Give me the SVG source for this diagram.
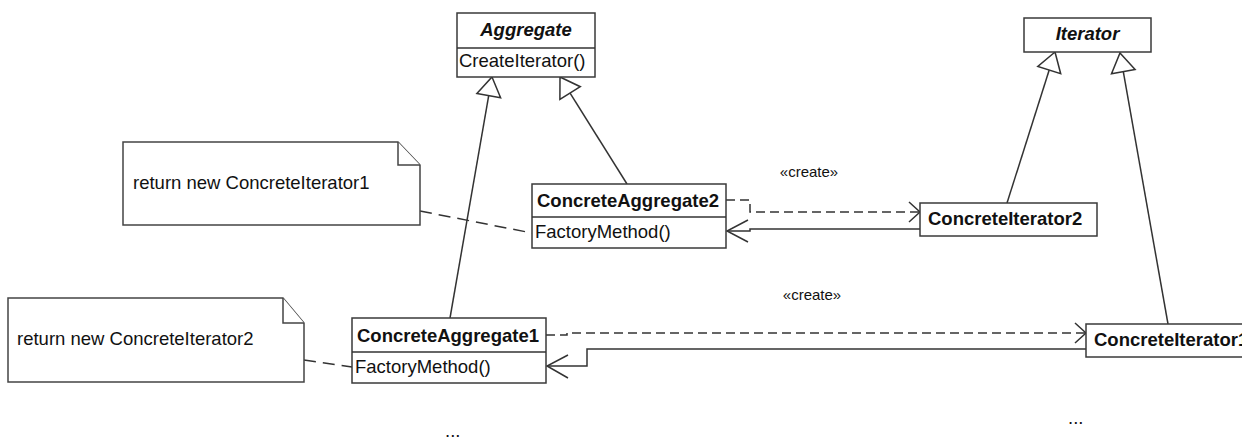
<svg xmlns="http://www.w3.org/2000/svg" width="1242" height="438" viewBox="0 0 1242 438">
<style>
  .box{fill:#fff;stroke:#3a3a3a;stroke-width:1.5}
  .note{fill:#fff;stroke:#444;stroke-width:1.5}
  .t{font-family:"Liberation Sans",Arial,sans-serif;font-size:18.5px;fill:#111}
  .b{font-weight:bold}
  .bi{font-weight:bold;font-style:italic}
  .lbl{font-family:"Liberation Sans",Arial,sans-serif;font-size:15px;fill:#111}
  .ln{fill:none;stroke:#333;stroke-width:1.5}
  .dash{fill:none;stroke:#333;stroke-width:1.5;stroke-dasharray:9 5}
  .ndash{fill:none;stroke:#333;stroke-width:1.5;stroke-dasharray:12 7}
  .tri{fill:#fff;stroke:#333;stroke-width:1.5;stroke-linejoin:miter}
</style>
<rect width="1242" height="438" fill="#fff"/>

<g id="connectors">
  <line class="ln" x1="450" y1="318" x2="488.7" y2="95.7"/>
  <polygon class="tri" points="492,77 500.6,97.8 476.9,93.6"/>
  <line class="ln" x1="627" y1="184" x2="570.1" y2="93.1"/>
  <polygon class="tri" points="560,77 580.3,86.7 559.9,99.5"/>
  <line class="ln" x1="1007" y1="203" x2="1049.2" y2="70.1"/>
  <polygon class="tri" points="1055,52 1060.7,73.7 1037.8,66.5"/>
  <line class="ln" x1="1168" y1="324" x2="1123.3" y2="71.7"/>
  <polygon class="tri" points="1120,53 1135.1,69.6 1111.5,73.8"/>

  <polyline class="dash" points="726,200 750,200 750,212 919,212"/>
  <polyline class="ln" points="909,202 920,212 909,222"/>
  <polyline class="dash" points="546,335 567,335 567,333 1085,333"/>
  <polyline class="ln" points="1075,323 1086,333 1075,343"/>

  <polyline class="ln" points="920,229 750,229 750,231 727,231"/>
  <polyline class="ln" points="748,220 727,231 748,242"/>
  <polyline class="ln" points="1086,349 587,349 587,366 547,366"/>
  <polyline class="ln" points="568,355 547,366 568,378"/>

  <line class="ndash" x1="420" y1="211" x2="532" y2="233"/>
  <line class="ndash" x1="304" y1="360" x2="352" y2="367"/>

  <text class="lbl" x="809" y="177" text-anchor="middle">«create»</text>
  <text class="lbl" x="812" y="300" text-anchor="middle">«create»</text>
</g>

<g id="Aggregate">
  <rect class="box" x="457" y="13" width="138" height="64"/>
  <line class="ln" x1="457" y1="48" x2="595" y2="48"/>
  <text class="t bi" x="526" y="36" text-anchor="middle">Aggregate</text>
  <text class="t" x="459" y="67">CreateIterator()</text>
</g>

<g id="Iterator">
  <rect class="box" x="1024" y="18" width="127" height="34"/>
  <text class="t bi" x="1087.5" y="40" text-anchor="middle">Iterator</text>
</g>

<g id="ConcreteAggregate2">
  <rect class="box" x="532" y="184" width="194" height="64"/>
  <line class="ln" x1="532" y1="217" x2="726" y2="217"/>
  <text class="t b" x="537" y="207">ConcreteAggregate2</text>
  <text class="t" x="535" y="238">FactoryMethod()</text>
</g>

<g id="ConcreteIterator2">
  <rect class="box" x="920" y="203" width="177" height="33"/>
  <text class="t b" x="928" y="225">ConcreteIterator2</text>
</g>

<g id="ConcreteAggregate1">
  <rect class="box" x="352" y="318" width="194" height="65"/>
  <line class="ln" x1="352" y1="352" x2="546" y2="352"/>
  <text class="t b" x="357" y="342">ConcreteAggregate1</text>
  <text class="t" x="355" y="373">FactoryMethod()</text>
</g>

<g id="ConcreteIterator1">
  <rect class="box" x="1086" y="324" width="180" height="33"/>
  <text class="t b" x="1094" y="346">ConcreteIterator1</text>
</g>

<g id="Note1">
  <path class="note" d="M123,142 H398 L420,165 V225 H123 Z"/>
  <path class="note" d="M398,142 V165 H420"/>
  <text class="t" x="133" y="189">return new ConcreteIterator1</text>
</g>

<g id="Note2">
  <path class="note" d="M8,298 H283 L304,323 V382 H8 Z"/>
  <path class="note" d="M283,298 V323 H304"/>
  <text class="t" x="17" y="345">return new ConcreteIterator2</text>
</g>

<text class="t" x="1068" y="424">...</text>
<text class="t" x="445" y="437">...</text>
</svg>
